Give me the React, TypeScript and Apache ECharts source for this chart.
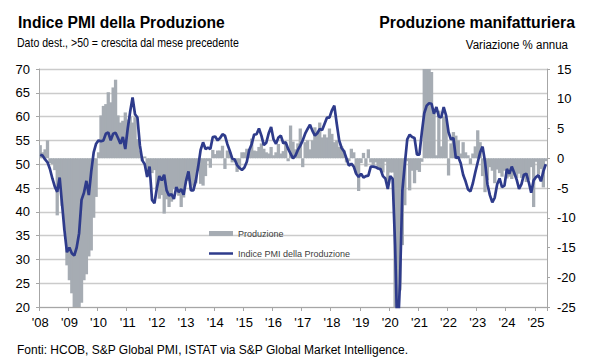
import React, { useEffect, useRef } from "react";
import * as echarts from "echarts";

// ---- DATA ----
const startYear = 2008;
const yearLabels = ["'08","'09","'10","'11","'12","'13","'14","'15","'16","'17","'18","'19","'20","'21","'22","'23","'24","'25"];

// PMI output index (left axis), monthly Jan 2008 - May 2025
const pmi2008_2012 = [
  52.0, 51.8, 51.0, 50.4, 49.0, 47.0, 45.3, 44.2, 47.2, 41.5, 36.0, 31.5,
  32.5, 31.3, 30.8, 32.5, 35.5, 42.5, 44.0, 46.5, 43.5, 48.5, 52.5, 54.3,
  55.0, 54.8, 55.0, 56.4, 56.7, 55.0, 56.4, 56.6, 55.5, 54.3, 55.7, 53.2,
  57.5, 61.0, 64.0, 60.5, 59.8, 54.0, 50.8, 50.0, 47.3, 49.5, 42.5, 41.8,
  45.0, 47.5, 46.6, 47.8, 44.5, 43.4, 43.7, 42.7, 45.2, 44.1, 44.8, 43.6,
];
const pmi2013_2017 = [
  46.5, 48.5, 44.5, 44.5, 46.5, 49.5, 53.0, 54.6, 53.2, 53.5, 53.2, 55.7,
  55.8, 55.0, 55.5, 56.3, 56.0, 54.2, 52.8, 51.2, 51.0, 49.8, 49.2, 48.8,
  49.3, 50.5, 53.0, 54.2, 56.2, 56.3, 57.5, 56.0, 54.0, 54.5, 56.5, 57.8,
  55.2, 54.3, 55.6, 56.0, 54.4, 54.6, 53.2, 52.2, 51.2, 51.8, 53.0, 53.9,
  55.0, 56.4, 57.4, 58.3, 57.0, 56.0, 56.5, 57.4, 57.2, 58.5, 59.8, 59.8,
];
const pmi2018_2021 = [
  61.3, 62.3, 58.5, 55.0, 53.4, 52.7, 51.2, 49.7, 50.1, 49.5, 48.0, 47.3,
  48.0, 47.2, 47.5, 47.6, 49.5, 49.5, 49.4, 49.1, 49.0, 47.5, 47.0, 44.8,
  47.5, 46.9, 33.0, 13.0, 25.0, 44.5, 50.0, 55.2, 56.2, 55.7, 55.5, 52.0,
  52.0, 56.7, 60.7, 62.3, 62.8, 62.7, 60.6, 62.0, 60.0, 59.8, 62.0, 60.2,
];
const pmi2022_2025 = [
  56.7, 55.2, 55.5, 51.3, 51.5, 50.2, 47.8, 46.4, 44.7, 44.3, 46.0, 48.3,
  50.4, 52.5, 53.7, 50.5, 45.8, 43.5, 42.0, 43.0, 45.8, 47.0, 45.2, 45.5,
  49.0, 48.0, 49.5, 48.2, 46.8, 44.8, 45.8, 47.8, 48.0, 46.2, 44.0, 46.6,
  47.3, 47.7, 46.4, 48.5, 50.0,
];

// Manufacturing production, % y/y (right axis)
const prod2008_2012 = [
  2.2, 1.0, 1.5, 3.0, -0.8, -1.0, -2.0, -9.6, -5.0, -8.0, -12.0, -18.0,
  -20.5, -22.7, -26.0, -26.0, -26.0, -24.3, -20.5, -19.5, -16.5, -15.5, -10.0, -6.5,
  1.0, 7.2, 8.8, 9.1, 11.1, 9.4, 11.9, 13.2, 7.2, 6.0, 6.3, 7.7,
  6.5, 7.0, 6.0, 6.9, 3.2, 1.3, -0.5, 0.3, -2.3, -2.0, -2.5, -2.0,
  -5.0, -6.8, -6.2, -9.3, -6.9, -8.2, -7.3, -5.2, -4.8, -6.3, -8.2, -6.6,
];
const prod2013_2017 = [
  -3.7, -3.8, -5.2, -4.6, -4.2, -2.1, -4.3, -4.6, -3.0, -0.5, -1.6, 1.4,
  0.7, 1.3, 1.3, 2.1, -1.8, 1.3, 1.0, -0.7, -0.5, -2.3, -1.5, 1.0,
  1.0, 1.6, 0.8, 3.3, 1.3, 1.2, 1.9, 2.5, 1.6, 1.0, 0.8, 1.9,
  0.5, 1.0, 2.4, 0.8, 1.2, 2.4, -0.5, 5.5, 2.8, 1.5, 2.5, 5.0,
  -1.5, 2.7, 3.0, 1.5, 3.0, 5.2, 4.5, 6.0, 3.5, 4.0, 3.5, 5.0,
];
const prod2018_2021 = [
  4.1, 2.7, 3.0, 1.9, 2.0, 1.3, -0.7, -0.5, 1.6, 1.0, -2.5, -5.5,
  -0.8, 0.9, -1.4, 1.5, -0.7, -1.2, -0.7, -1.8, -2.1, -2.4, -0.6, -4.3,
  -2.4, -2.4, -28.0, -42.0, -22.2, -14.6, -7.9, -0.5, -5.4, -2.1, -4.2, -2.0,
  -2.3, -0.6, 37.0, 79.0, 21.0, 14.5, 7.5, 0.5, 8.0, 2.0, 7.0, 6.5,
];
const prod2022_2025 = [
  -2.9, 2.5, 4.4, 3.8, 3.0, 0.8, 2.7, 1.0, 0.5, -1.0, 0.8, 2.0,
  4.7, 2.7, -3.0, -5.7, -3.7, -1.5, -2.1, -4.2, -1.9, -2.5, -3.1, -2.1,
  -3.4, -3.1, -3.5, -2.9, -3.3, -2.6, -3.3, -3.2, -4.0, -3.6, -1.5, -8.2,
  -0.6, -2.7, -1.8, -4.9, -0.5,
];

const pmi = [...pmi2008_2012, ...pmi2013_2017, ...pmi2018_2021, ...pmi2022_2025];
const production = [...prod2008_2012, ...prod2013_2017, ...prod2018_2021, ...prod2022_2025];
const months = pmi.map((_, i) => {
  const y = startYear + Math.floor(i / 12);
  const m = (i % 12) + 1;
  return `${y}-${m < 10 ? "0" + m : m}`;
});

const FONT = "'Liberation Sans', Arial, sans-serif";
const BAR_COLOR = "#a6acb3";
const LINE_COLOR = "#2e3b8b";
const AXIS_COLOR = "#a6a6a6";
const GRID_COLOR = "#cbcbcb";

export default function App() {
  const ref = useRef<HTMLDivElement>(null);
  useEffect(() => {
    if (!ref.current) return;
    const chart = echarts.init(ref.current, undefined, { renderer: "svg" });
    chart.setOption({
      animation: false,
      backgroundColor: "#ffffff",
      textStyle: { fontFamily: FONT },
      grid: { left: 39, right: 53, top: 69, bottom: 53, containLabel: false },
      legend: {
        orient: "vertical",
        left: 204,
        top: 224,
        itemWidth: 24,
        itemHeight: 5,
        itemGap: 11,
        symbolKeepAspect: true,
        textStyle: { fontFamily: FONT, fontSize: 9, color: "#404040" },
        data: [
          { name: "Produzione", icon: "rect" },
          { name: "Indice PMI della Produzione", icon: "path://M0 0H24V2.5H0Z" },
        ],
      },
      xAxis: {
        type: "category",
        data: months,
        boundaryGap: true,
        axisLine: { onZero: false, lineStyle: { color: AXIS_COLOR, width: 1 } },
        axisTick: {
          show: true,
          length: 4,
          interval: (i: number) => i % 12 === 0,
          lineStyle: { color: AXIS_COLOR },
        },
        axisLabel: {
          interval: (i: number) => i % 12 === 0,
          formatter: (_v: string, i: number) => yearLabels[Math.floor(i / 12)] ?? "",
          fontFamily: FONT,
          fontSize: 13,
          color: "#000",
          margin: 9,
        },
        splitLine: { show: false },
      },
      yAxis: [
        {
          type: "value",
          min: 20,
          max: 70,
          interval: 5,
          position: "left",
          axisLine: { show: true, lineStyle: { color: AXIS_COLOR } },
          axisTick: { show: true, length: 3, lineStyle: { color: AXIS_COLOR } },
          axisLabel: { fontFamily: FONT, fontSize: 13, color: "#000", margin: 9 },
          splitLine: { show: true, lineStyle: { color: GRID_COLOR, width: 1.3 } },
        },
        {
          type: "value",
          min: -25,
          max: 15,
          interval: 5,
          position: "right",
          axisLine: { show: true, lineStyle: { color: AXIS_COLOR } },
          axisTick: { show: true, length: 3, lineStyle: { color: AXIS_COLOR } },
          axisLabel: { fontFamily: FONT, fontSize: 13, color: "#000", margin: 10 },
          splitLine: { show: false },
        },
      ],
      series: [
        {
          name: "Produzione",
          type: "bar",
          yAxisIndex: 1,
          data: production,
          barWidth: 3.3,
          itemStyle: { color: BAR_COLOR },
          clip: true,
          z: 2,
        },
        {
          name: "Indice PMI della Produzione",
          type: "line",
          yAxisIndex: 0,
          data: pmi,
          symbol: "none",
          showSymbol: false,
          lineStyle: { color: LINE_COLOR, width: 2.7 },
          itemStyle: { color: LINE_COLOR },
          clip: true,
          z: 3,
        },
      ],
      graphic: [
        {
          type: "text",
          x: 18,
          y: 22,
          scaleX: 0.92,
          style: {
            text: "Indice PMI della Produzione",
            font: `bold 17px ${FONT}`,
            fill: "#000",
            align: "left",
            verticalAlign: "middle",
          },
        },
        {
          type: "text",
          x: 17,
          y: 43,
          scaleX: 0.88,
          style: {
            text: "Dato dest., >50 = crescita dal mese precedente",
            font: `12px ${FONT}`,
            fill: "#000",
            align: "left",
            verticalAlign: "middle",
          },
        },
        {
          type: "text",
          x: 575,
          y: 22,
          scaleX: 0.93,
          style: {
            text: "Produzione manifatturiera",
            font: `bold 17px ${FONT}`,
            fill: "#000",
            align: "right",
            verticalAlign: "middle",
          },
        },
        {
          type: "text",
          x: 568,
          y: 44,
          scaleX: 0.96,
          style: {
            text: "Variazione % annua",
            font: `12px ${FONT}`,
            fill: "#000",
            align: "right",
            verticalAlign: "middle",
          },
        },
        {
          type: "text",
          x: 17,
          y: 350,
          style: {
            text: "Fonti: HCOB, S&P Global PMI, ISTAT via S&P Global Market Intelligence.",
            font: `12px ${FONT}`,
            fill: "#000",
            align: "left",
            verticalAlign: "middle",
          },
        },
      ],
    });
    return () => chart.dispose();
  }, []);
  return (
    <div
      ref={ref}
      style={{ position: "absolute", left: 0, top: 0, width: 600, height: 360 }}
    />
  );
}
